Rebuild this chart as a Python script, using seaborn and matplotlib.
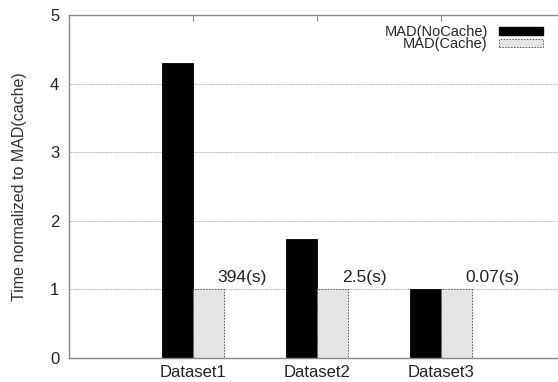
import numpy as np
import pandas as pd
import matplotlib
matplotlib.use("Agg")
import matplotlib.pyplot as plt
import seaborn as sns

datasets = ["Dataset1", "Dataset2", "Dataset3"]
series = ["MAD(NoCache)", "MAD(Cache)"]
nocache = [4.30, 1.73, 1.00]
cache = [1.00, 1.00, 1.00]
cache_times = ["394(s)", "2.5(s)", "0.07(s)"]

df = pd.DataFrame({
    "dataset": datasets * 2,
    "series": [series[0]] * 3 + [series[1]] * 3,
    "value": nocache + cache,
})

sns.set_style("white")
plt.rcParams["font.family"] = ["Liberation Sans", "DejaVu Sans"]

fig = plt.figure(figsize=(5.58, 3.82), dpi=100)
# axes runs past the right edge of the picture, as in the reference crop
ax = fig.add_axes([69 / 558, 1 - 358 / 382, 496 / 558, 343 / 382])

sns.barplot(
    data=df, x="dataset", y="value", hue="series",
    palette=["black", "#e4e4e4"], width=0.5, ax=ax,
    legend=False, saturation=1,
)

for i, bar in enumerate(ax.patches[:6]):
    if i < 3:
        bar.set_edgecolor("black")
        bar.set_linewidth(0.6)
    else:
        bar.set_edgecolor("#555555")
        bar.set_linestyle((0, (1.5, 1.5)))
        bar.set_linewidth(0.7)

for i, t in enumerate(cache_times):
    ax.text(i + 0.2, 1.07, t, ha="left", va="bottom", fontsize=12.5, color="#222222")

ax.set_xlim(-1, 3)
ax.set_ylim(0, 5)
ax.set_yticks(range(6))
ax.set_xlabel("")
ax.set_ylabel("Time normalized to MAD(cache)", fontsize=11.5, color="#333333")
ax.yaxis.set_label_coords(-0.085, 0.5)
ax.tick_params(axis="y", labelsize=12, colors="#222222")
ax.tick_params(axis="x", labelsize=12, colors="#222222")
ax.tick_params(axis="y", direction="in", length=4, color="#888888", pad=7)
ax.tick_params(axis="x", direction="in", length=0, pad=5)
ax.xaxis.set_ticks_position("both")
ax.tick_params(axis="x", which="both", top=True, length=4, color="#888888")
ax.grid(axis="y", color="#999999", linestyle=(0, (1, 1)), linewidth=0.6)
ax.set_axisbelow(True)
for s in ax.spines.values():
    s.set_color("#888888")
    s.set_linewidth(1.0)

handles = [
    plt.Rectangle((0, 0), 1, 1, facecolor="black", edgecolor="black"),
    plt.Rectangle((0, 0), 1, 1, facecolor="#e4e4e4", edgecolor="#555555",
                  linestyle=(0, (1.5, 1.5)), linewidth=0.7),
]
fig.legend(
    handles, series, loc="upper right", bbox_to_anchor=(549 / 558, 1 - 19 / 382),
    markerfirst=False, frameon=False, fontsize=10.5, handlelength=3.0,
    handleheight=0.5, labelspacing=-0.1, handletextpad=0.8, borderaxespad=0,
)

fig.savefig("out.png", dpi=100)
